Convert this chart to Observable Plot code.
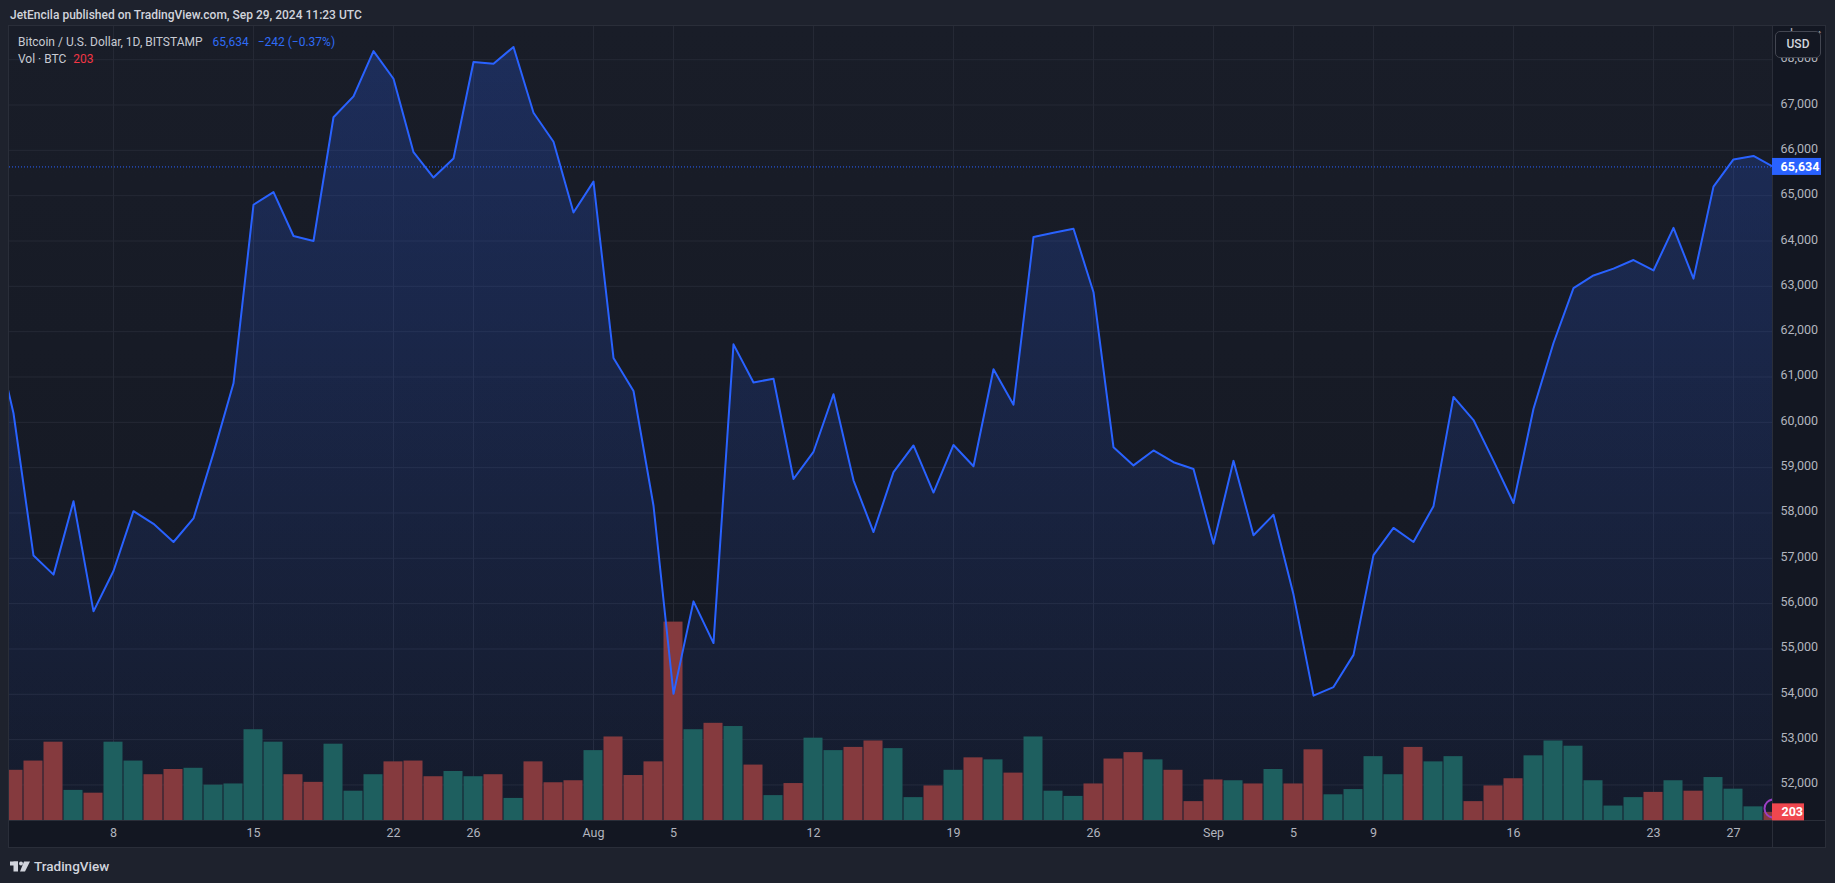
<!DOCTYPE html>
<html>
<head>
<meta charset="utf-8">
<script src="https://cdn.jsdelivr.net/npm/d3@7"></script>
<script src="https://cdn.jsdelivr.net/npm/@observablehq/plot@0.6"></script>
<style>
html, body { margin: 0; padding: 0; background: #1e222d; }
#root { position: relative; width: 1835px; height: 883px; overflow: hidden; background: #1e222d; font-family: Roboto, "Noto Sans", sans-serif; }
.abs { position: absolute; }
#hdr { left: 10px; top: 6px; line-height: 18px; font-size: 12px; color: #d1d4dc; white-space: nowrap; font-weight: 500; }
#frame { left: 8px; top: 25px; width: 1818px; height: 823px; border: 1px solid #2a2e39; box-sizing: border-box; background: #131722; }
#pane { left: 9px; top: 26px; width: 1763px; height: 794px; background: linear-gradient(#191d28, #141823); }
#vsep { left: 1772px; top: 26px; width: 1px; height: 821px; background: #2a2e39; }
#hsep { left: 9px; top: 820px; width: 1816px; height: 1px; background: #2a2e39; }
.plot { position: absolute; left: 9px; top: 26px; }
.leg { left: 18px; line-height: 18px; font-size: 12px; color: #c8cbd3; white-space: nowrap; }
#usd { left: 1775px; top: 31px; width: 46px; height: 27px; box-sizing: border-box; border: 1px solid #434651; border-radius: 5px; background: #131722; color: #d1d4dc; font-size: 12px; text-align: center; line-height: 25px; font-weight: 500; }
#foot { left: 10px; top: 857px; height: 18px; display: flex; align-items: center; color: #d1d4dc; font-size: 13.5px; font-weight: 500; white-space: nowrap; }
</style>
</head>
<body>
<div id="root">
  <div id="hdr" class="abs">JetEncila published on TradingView.com, Sep 29, 2024 11:23 UTC</div>
  <div id="frame" class="abs"></div>
  <div id="pane" class="abs"></div>
  <div id="vsep" class="abs"></div>
  <div id="hsep" class="abs"></div>
  <div id="plots"></div>
  <div class="abs leg" style="top:33px">Bitcoin / U.S. Dollar, 1D, BITSTAMP<span style="color:#2f6cf5;margin-left:10px">65,634</span><span style="color:#2f6cf5;margin-left:9px">−242 (−0.37%)</span></div>
  <div class="abs leg" style="top:50px">Vol · BTC<span style="color:#f23645;margin-left:7px">203</span></div>
  <div id="usd" class="abs">USD</div>
  <div id="foot" class="abs">
    <svg width="20" height="11" viewBox="0 0 20 11" style="margin-right:4px">
      <rect x="0" y="0.5" width="8" height="4" fill="#d1d4dc"/>
      <rect x="3.5" y="0.5" width="4.5" height="10" fill="#d1d4dc"/>
      <circle cx="11" cy="2.5" r="2" fill="#d1d4dc"/>
      <polygon points="14,0.5 20,0.5 15,10.5 10,10.5" fill="#d1d4dc"/>
    </svg>
    <span>TradingView</span>
  </div>
</div>
<script>
// ---- data ----
// daily closes, BTC/USD Bitstamp
const closeJul = [62100,60200,57060,56640,58260,55830,56720,58040,57760,57360,57880,59320,60860,64800,65080,64110,64000,66730,67190,68190,67580,65960,65400,65820,67950,67910,68280,66830,66190,64630]; // Jul 2..31
const closeAug = [65310,61420,60690,58160,54010,56050,55130,61720,60880,60960,58750,59350,60620,58720,57580,58900,59490,58450,59500,59030,61170,60390,64090,64180,64270,62870,59450,59050,59380,59120,58970]; // Aug 1..31
const closeSep = [57320,59150,57510,57960,56200,53970,54160,54870,57070,57670,57360,58150,60560,60050,59150,58220,60300,61750,62960,63240,63390,63580,63350,64290,63170,65200,65800,65876,65634]; // Sep 1..29
// daily volume in BTC
const volJul = [1250,1480,1950,750,680,1950,1480,1140,1270,1300,880,910,2260,1950,1140,950,1900,730,1140,1460,1480,1090,1220,1090,1140,550,1460,940,990]; // Jul 3..31
const volAug = [1740,2080,1120,1460,4940,2260,2420,2340,1380,620,920,2050,1740,1820,1980,1790,570,860,1250,1560,1510,1180,2080,730,600,910,1530,1690,1510,1250,470]; // Aug 1..31
const volSep = [1010,990,910,1270,910,1760,640,770,1590,1140,1820,1460,1590,470,860,1040,1610,1980,1850,990,360,570,700,990,730,1070,780,340,203]; // Sep 1..29

const xTickDays = ["2024-07-08","2024-07-15","2024-07-22","2024-07-26","2024-08-01","2024-08-05","2024-08-12","2024-08-19","2024-08-26","2024-09-01","2024-09-05","2024-09-09","2024-09-16","2024-09-23","2024-09-27"];
const xTickLabels = ["8","15","22","26","Aug","5","12","19","26","Sep","5","9","16","23","27"];
const yTicks = [52000,53000,54000,55000,56000,57000,58000,59000,60000,61000,62000,63000,64000,65000,66000,67000,68000];

// ---- build rows ----
const dates = d3.utcDay.range(new Date(Date.UTC(2024,6,2)), new Date(Date.UTC(2024,8,30)));
const closes = closeJul.concat(closeAug, closeSep);
const rows = dates.map((date, i) => ({date, close: closes[i]}));
const vols = volJul.concat(volAug, volSep);
const volRows = vols.map((vol, i) => ({date: dates[i + 1], vol, up: closes[i + 1] >= closes[i]}));
const lastClose = closes[closes.length - 1];
const lastVol = vols[vols.length - 1];

const xTickDates = xTickDays.map(s => new Date(s + "T00:00:00Z"));
const labelMap = new Map(xTickDates.map((d, i) => [+d, xTickLabels[i]]));

// ---- layout ----
const W = 1816, H = 821;
const xDomain = [new Date(Date.UTC(2024,6,2,19,12)), new Date(Date.UTC(2024,8,28,22,48))];
const common = {
  width: W, height: H,
  marginLeft: 0, marginRight: 53, marginTop: 0, marginBottom: 27,
  style: {background: "transparent", fontFamily: "Roboto, 'Noto Sans', sans-serif", fontSize: "12.5px", color: "#b2b5be", overflow: "visible"}
};
const priceDomain = [51216, 68732];
const grid = "#252935";

const base = Plot.plot({
  ...common,
  x: {type: "utc", domain: xDomain},
  y: {domain: priceDomain},
  marks: [
    Plot.ruleX(xTickDates, {stroke: grid, strokeWidth: 1}),
    Plot.ruleY(yTicks, {stroke: grid, strokeWidth: 1}),
    Plot.areaY(rows, {x: "date", y1: priceDomain[0], y2: "close", fill: "url(#areaGrad)", clip: true}),
    Plot.axisY(yTicks, {anchor: "right", tickSize: 0, tickPadding: 8, dy: -1.5, tickFormat: d3.format(","), fill: "#b2b5be", fontSize: 12.5}),
    Plot.axisX(xTickDates, {anchor: "bottom", tickSize: 0, tickPadding: 8, tickFormat: d => labelMap.get(+d), fill: "#b2b5be", fontSize: 12.5})
  ]
});

const teal = "#1e5f5f", red = "#853a3e";
const volPlot = Plot.plot({
  ...common,
  x: {type: "utc", domain: xDomain, axis: null},
  y: {domain: [0, 19770], axis: null},
  marks: [
    Plot.rectY(volRows, {x1: d => d3.utcMinute.offset(d.date, -684), x2: d => d3.utcMinute.offset(d.date, 684), y: "vol", fill: d => d.up ? teal : red, clip: true}),
    Plot.dot([lastVol], {x: () => dates[dates.length - 1], frameAnchor: "bottom", dy: -12, r: 9, stroke: "#9b3fc4", strokeWidth: 2, fill: "none", clip: true}),
    Plot.text([lastVol], {y: d => d, frameAnchor: "right", dx: 9, textAnchor: "start", text: d => String(d), fill: "#ffffff", fontWeight: "bold", fontSize: 12.5})
  ]
});

const linePlot = Plot.plot({
  ...common,
  x: {type: "utc", domain: xDomain, axis: null},
  y: {domain: priceDomain, axis: null},
  marks: [
    Plot.ruleY([lastClose], {stroke: "#2962ff", strokeWidth: 1, strokeDasharray: "1,2"}),
    Plot.lineY(rows, {x: "date", y: "close", stroke: "#2962ff", strokeWidth: 2, clip: true}),
    Plot.text([lastClose], {y: d => d, frameAnchor: "right", dx: 8, textAnchor: "start", text: d => d3.format(",")(d), fill: "#ffffff", fontWeight: "bold", fontSize: 12.5})
  ]
});

const holder = document.getElementById("plots");
for (const p of [base, volPlot, linePlot]) { p.classList.add("plot"); holder.appendChild(p); }

// area gradient
d3.select(base).insert("defs", ":first-child").html(
  `<linearGradient id="areaGrad" gradientUnits="userSpaceOnUse" x1="0" y1="0" x2="0" y2="794">
     <stop offset="0" stop-color="#2962ff" stop-opacity="0.24"/>
     <stop offset="1" stop-color="#2962ff" stop-opacity="0.04"/>
   </linearGradient>`);

// value label boxes in the right scale
function labelBox(plot, value, fill, w) {
  const g = plot.querySelector('g[aria-label="text"]');
  const yc = plot.scale("y").apply(value);
  const r = document.createElementNS("http://www.w3.org/2000/svg", "rect");
  r.setAttribute("x", W - 53);
  r.setAttribute("y", yc - 8.5);
  r.setAttribute("width", w);
  r.setAttribute("height", 17);
  r.setAttribute("fill", fill);
  g.parentNode.insertBefore(r, g);
}
labelBox(linePlot, lastClose, "#2962ff", 49);
labelBox(volPlot, lastVol, "#f0474f", 32);
</script>
</body>
</html>
